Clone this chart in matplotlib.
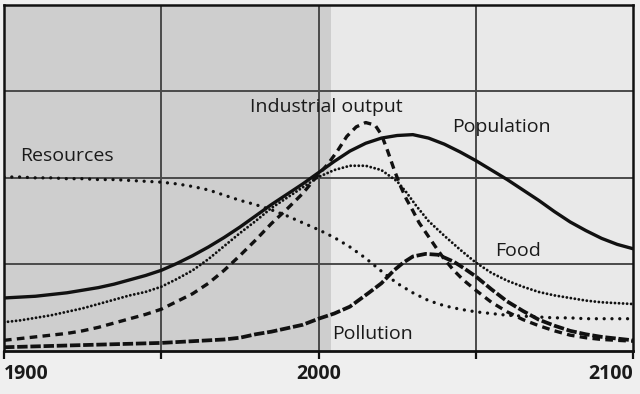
import matplotlib
matplotlib.use("Agg")
import matplotlib.pyplot as plt

plt.rcParams['font.family'] = ['Open Sans', 'DejaVu Sans']
plt.rcParams['lines.scale_dashes'] = False

# ---- data ----
pop_years = [1900, 1905, 1910, 1915, 1920, 1925, 1930, 1935, 1940, 1945, 1950, 1955, 1960, 1965,
             1970, 1975, 1980, 1985, 1990, 1995, 2000, 2005, 2010, 2015, 2020, 2025, 2030, 2035,
             2040, 2045, 2050, 2055, 2060, 2065, 2070, 2075, 2080, 2085, 2090, 2095, 2100]
population = [0.61, 0.62, 0.63, 0.65, 0.67, 0.70, 0.73, 0.77, 0.82, 0.87, 0.93, 1.01, 1.10, 1.20,
              1.31, 1.43, 1.56, 1.69, 1.81, 1.93, 2.06, 2.19, 2.31, 2.40, 2.46, 2.49, 2.50, 2.46,
              2.39, 2.30, 2.20, 2.09, 1.98, 1.86, 1.74, 1.61, 1.49, 1.39, 1.30, 1.23, 1.18]

food_years = [1900, 1905, 1910, 1915, 1920, 1925, 1930, 1935, 1940, 1945, 1950, 1955, 1960, 1965,
              1970, 1975, 1980, 1985, 1990, 1995, 2000, 2005, 2010, 2015, 2020, 2025, 2028, 2031,
              2035, 2040, 2045, 2050, 2055, 2060, 2065, 2070, 2075, 2080, 2085, 2090, 2095, 2100]
food = [0.33, 0.35, 0.38, 0.41, 0.45, 0.49, 0.54, 0.59, 0.64, 0.68, 0.74, 0.83, 0.93, 1.06,
        1.21, 1.36, 1.50, 1.65, 1.77, 1.89, 2.01, 2.09, 2.14, 2.14, 2.09, 1.96, 1.83, 1.68,
        1.50, 1.33, 1.17, 1.02, 0.90, 0.81, 0.74, 0.68, 0.64, 0.61, 0.58, 0.56, 0.55, 0.54]

res_years = [1900, 1905, 1910, 1915, 1920, 1925, 1930, 1935, 1940, 1945, 1950, 1955, 1960, 1965,
             1970, 1975, 1980, 1985, 1990, 1995, 2000, 2005, 2010, 2015, 2020, 2025, 2030, 2035,
             2040, 2045, 2050, 2055, 2060, 2065, 2070, 2075, 2080, 2085, 2090, 2095, 2100]
resources = [2.01, 2.01, 2.00, 2.00, 1.99, 1.99, 1.98, 1.98, 1.97, 1.96, 1.95, 1.93, 1.90, 1.86,
             1.80, 1.74, 1.69, 1.63, 1.56, 1.48, 1.40, 1.31, 1.20, 1.07, 0.92, 0.78, 0.67, 0.58,
             0.52, 0.48, 0.45, 0.43, 0.41, 0.40, 0.39, 0.38, 0.38, 0.37, 0.37, 0.37, 0.37]

ind_years = [1900, 1905, 1910, 1915, 1920, 1925, 1930, 1935, 1940, 1945, 1950, 1955, 1960, 1965,
             1970, 1975, 1980, 1985, 1990, 1995, 2000, 2003, 2006, 2009, 2012, 2015, 2018, 2020,
             2022, 2024, 2026, 2028, 2030, 2032, 2035, 2038, 2040, 2043, 2046, 2050, 2055, 2060,
             2065, 2070, 2075, 2080, 2085, 2090, 2095, 2100]
industrial = [0.12, 0.14, 0.16, 0.18, 0.20, 0.23, 0.27, 0.32, 0.37, 0.42, 0.48, 0.57, 0.66, 0.78,
              0.93, 1.10, 1.28, 1.47, 1.64, 1.82, 2.04, 2.16, 2.31, 2.48, 2.59, 2.64, 2.61, 2.50,
              2.31, 2.10, 1.91, 1.75, 1.62, 1.48, 1.32, 1.16, 1.06, 0.93, 0.82, 0.70, 0.56, 0.45,
              0.36, 0.29, 0.23, 0.18, 0.15, 0.13, 0.12, 0.11]

pol_years = [1900, 1910, 1920, 1930, 1940, 1950, 1955, 1960, 1965, 1970, 1975, 1980, 1985, 1990,
             1995, 2000, 2005, 2010, 2013, 2016, 2020, 2024, 2027, 2030, 2034, 2038, 2043, 2046,
             2050, 2055, 2060, 2065, 2070, 2075, 2080, 2085, 2090, 2095, 2100]
pollution = [0.04, 0.05, 0.06, 0.07, 0.08, 0.09, 0.10, 0.11, 0.12, 0.13, 0.15, 0.19, 0.22, 0.26,
             0.30, 0.37, 0.43, 0.51, 0.59, 0.67, 0.78, 0.93, 1.02, 1.09, 1.12, 1.11, 1.03, 0.96,
             0.86, 0.71, 0.57, 0.46, 0.36, 0.29, 0.23, 0.19, 0.16, 0.14, 0.12]

tick_years = [1900, 1950, 2000, 2050, 2100]
tick_labels = ['1900', '', '2000', '', '2100']
shade_end = 2004

labels = {
    'Resources': (1905.1, 2.20),
    'Industrial output': (1978.2, 2.76),
    'Population': (2042.4, 2.53),
    'Food': (2056.1, 1.10),
    'Pollution': (2004.2, 0.135),
}

# ---- figure ----
fig = plt.figure(figsize=(6.4, 3.94), dpi=100, facecolor='#efefef')
ax = fig.add_axes([4 / 640, 1 - 350.7 / 394, 629 / 640, 345.7 / 394])
ax.set_facecolor('#e9e9e9')
ax.set_xlim(1900, 2100)
ax.set_ylim(0, 4)

ax.axvspan(1900, shade_end, color='#cecece', zorder=0, lw=0)

for yv in [1, 2, 3]:
    ax.axhline(yv, color='#4a4a4a', lw=1.4, zorder=1)
for xv in [1950, 2000, 2050]:
    ax.axvline(xv, color='#4a4a4a', lw=1.4, zorder=1)

ink = '#111111'
ax.plot(pop_years, population, color=ink, lw=2.4, solid_capstyle='round',
        solid_joinstyle='round', zorder=3)
ax.plot(ind_years, industrial, color=ink, lw=2.4, linestyle=(0, (5.5, 3.8)),
        dash_capstyle='butt', zorder=3)
ax.plot(pol_years, pollution, color=ink, lw=2.7, linestyle=(0, (7.5, 2.0)),
        dash_capstyle='butt', zorder=3)
ax.plot(food_years, food, color=ink, lw=2.1, linestyle=(0, (0.01, 2.9)),
        dash_capstyle='round', zorder=3)
ax.plot(res_years, resources, color=ink, lw=2.4, linestyle=(0, (0.01, 5.6)),
        dash_capstyle='round', zorder=3)

for name, (lx, ly) in labels.items():
    ax.text(lx, ly, name, fontsize=14, color='#1a1a1a', ha='left', va='baseline', zorder=4)

ax.set_yticks([])
ax.set_xticks(tick_years)
ax.set_xticklabels(tick_labels, fontsize=14, fontweight='bold', color='#1a1a1a')
tl = ax.get_xticklabels()
tl[0].set_horizontalalignment('left')
tl[-1].set_horizontalalignment('right')
ax.tick_params(axis='x', direction='out', length=5.5, width=1.6, color='#111111', pad=4)

for s in ax.spines.values():
    s.set_color('#111111')
    s.set_linewidth(1.8)
ax.spines['bottom'].set_linewidth(2.0)

fig.savefig('out.png', dpi=100, facecolor=fig.get_facecolor())
